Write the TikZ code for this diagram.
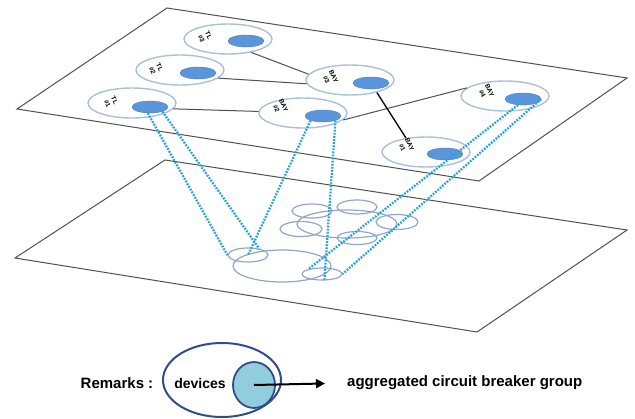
\documentclass[tikz,border=0pt]{standalone}
\usepackage{fontspec}
\setmainfont{Liberation Sans}
\usetikzlibrary{shapes.geometric,arrows.meta}

\definecolor{planegray}{HTML}{505050}
\definecolor{devline}{HTML}{A9C0D9}
\definecolor{cbfill}{HTML}{5B96DC}
\definecolor{dotblue}{HTML}{2AA4D8}
\definecolor{lowline}{HTML}{8FA6C6}
\definecolor{legline}{HTML}{2F4C8C}
\definecolor{legfill}{HTML}{92CDDD}

\tikzset{
  plane/.style={draw=planegray, line width=1pt},
  device/.style={ellipse, draw=devline, fill=white, line width=1.4pt,
    minimum width=88pt, minimum height=30pt, inner sep=0pt},
  cb/.style={ellipse, fill=cbfill, draw=cbfill!85!black, line width=0.4pt,
    minimum width=36pt, minimum height=12pt, inner sep=0pt},
  tag/.style={font=\fontsize{6.5}{8}\selectfont\bfseries, align=center,
    rotate=-65, inner sep=0pt},
  wire/.style={draw=planegray, line width=1pt},
  link/.style={draw=dotblue, line width=2.3pt, dash pattern=on 1.8pt off 1.3pt},
  group/.style={ellipse, draw=lowline, line width=1.2pt, inner sep=0pt,
    minimum width=40pt, minimum height=14pt},
  remark/.style={font=\fontsize{15}{18}\selectfont\bfseries, inner sep=0pt}
}

\begin{document}
\begin{tikzpicture}[x=1pt,y=-1pt]
\useasboundingbox (0,0) rectangle (635,418);

% the two layers
\draw[plane] (167,8) -- (627,78) -- (479,181) -- (17,109) -- cycle;
\draw[plane] (165,160) -- (627,230) -- (477,332) -- (15,258) -- cycle;

% upper layer: devices
\node[device] (tl3)  at (228,39)  {};
\node[device] (tl2)  at (180,70)  {};
\node[device] (tl1)  at (132,103) {};
\node[device] (bay3) at (350,80)  {};
\node[device] (bay2) at (303,113) {};
\node[device] (bay4) at (505,96)  {};
\node[device] (bay1) at (426,152) {};

\node[cb] (tl3d)  at (246,41)  {};
\node[cb] (tl2d)  at (198,73)  {};
\node[cb] (tl1d)  at (150,107) {};
\node[cb] (bay3d) at (371,83)  {};
\node[cb] (bay2d) at (323,116) {};
\node[cb] (bay4d) at (523,99)  {};
\node[cb] (bay1d) at (445,154) {};

\node[tag] (tl3t)  at (205,37)  {TL\\\#3};
\node[tag] (tl2t)  at (156,69)  {TL\\\#2};
\node[tag] (tl1t)  at (111,102) {TL\\\#1};
\node[tag] (bay3t) at (330,78)  {BAY\\\#3};
\node[tag] (bay2t) at (280,107) {BAY\\\#2};
\node[tag] (bay4t) at (486,92)  {BAY\\\#4};
\node[tag] (bay1t) at (406,146) {BAY\\\#1};

\draw[wire] (tl3.-30) -- (bay3.172);
\draw[wire] (tl2.-12) -- (bay3.185);
\draw[wire] (tl1.-8) -- (bay2.178);
\draw[wire] (bay2.-10) -- (bay4.168);
\draw[wire, draw=black, line width=1.3pt] (bay3.-25) -- (bay1.145);

% lower layer: aggregated groups
\node[group, minimum width=98pt, minimum height=32pt] (lowbig) at (282,266) {};
\node[group] (lowl) at (248,255) {};
\node[group, minimum height=12pt] (lowb) at (322,274) {};
\node[group] (g1) at (312,211) {};
\node[group] (g2) at (357,207) {};
\node[group, minimum width=42pt, minimum height=15pt] (g3) at (301,229) {};
\node[group, minimum width=100pt, minimum height=28pt] (g4) at (347,224) {};
\node[group, minimum width=42pt, minimum height=15pt] (g5) at (397,222) {};
\node[group, minimum height=13pt] (g6) at (357,238) {};

% mapping
\draw[link] (tl1d.-110) -- (lowl.west);
\draw[link] (tl1d.-20) -- (lowl.30);
\draw[link] (bay2d.200) -- (lowl.center);
\draw[link] (bay2d.-20) -- (lowb.-70);
\draw[link] (bay4d.-130) -- (lowb.160);
\draw[link] (bay4d.east) -- (lowb.east);

% remarks
\node[remark] (rem) at (117,383) {Remarks :};
\node[ellipse, draw=legline, line width=2pt, minimum width=118pt,
  minimum height=74pt] (legout) at (222,380) {};
\node[ellipse, draw=legline, fill=legfill, line width=1.8pt,
  minimum width=42pt, minimum height=46pt] (legdev) at (254,385) {};
\node[remark, font=\fontsize{14}{17}\selectfont\bfseries] (dev) at (200,383) {devices};
\node[remark, anchor=west] (grp) at (347,383) {aggregated circuit breaker group};
\draw[-{Triangle[length=9pt,width=9pt]}, line width=2pt, shorten >=22pt]
  (legdev.center) -- (grp.west);
\end{tikzpicture}
\end{document}
